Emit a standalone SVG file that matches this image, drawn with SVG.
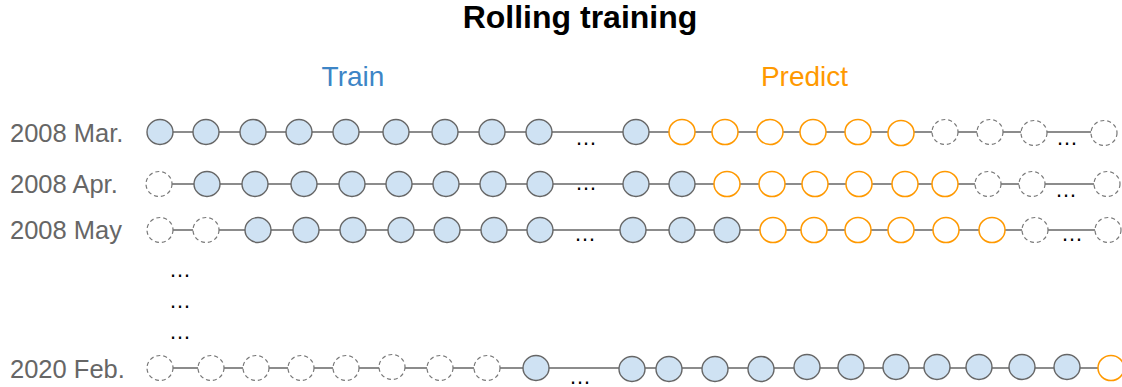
<svg xmlns="http://www.w3.org/2000/svg" width="1122" height="387" viewBox="0 0 1122 387">
  <style>
    text { font-family: "Liberation Sans", Arial, sans-serif; }
    .title { font-size: 32px; font-weight: bold; fill: #000; }
    .phase { font-size: 28px; }
    .label { font-size: 25.5px; fill: #666666; }
    .dots { font-size: 22px; fill: #000; }
    .link { stroke: #666666; stroke-width: 1.6; fill: none; }
    .train { fill: #cfe2f3; stroke: #666666; stroke-width: 1.4; }
    .pred { fill: #ffffff; stroke: #ff9900; stroke-width: 1.5; }
    .idle { fill: #ffffff; stroke: #777777; stroke-width: 1.2; stroke-dasharray: 4 3; }
  </style>

  <text class="title" x="580" y="28" text-anchor="middle">Rolling training</text>
  <text class="phase" x="353" y="86" text-anchor="middle" fill="#3d85c6">Train</text>
  <text class="phase" x="804.5" y="86" text-anchor="middle" fill="#ff9900">Predict</text>

  <!-- row labels -->
  <text class="label" x="10" y="142">2008 Mar.</text>
  <text class="label" x="10" y="193">2008 Apr.</text>
  <text class="label" x="10" y="239">2008 May</text>
  <text class="label" x="10" y="378">2020 Feb.</text>

  <!-- skipped rows -->
  <text class="dots" x="180" y="277" text-anchor="middle">…</text>
  <text class="dots" x="180" y="308" text-anchor="middle">…</text>
  <text class="dots" x="180" y="339" text-anchor="middle">…</text>

  <!-- timeline connectors -->
  <g id="connectors">
    <line class="link" x1="160" y1="132" x2="1104" y2="132"/>
    <line class="link" x1="159" y1="184" x2="1107" y2="184"/>
    <line class="link" x1="160" y1="230" x2="1108" y2="230"/>
    <line class="link" x1="160" y1="368" x2="1111" y2="368"/>
  </g>

  <!-- gaps in each timeline -->
  <text class="dots" x="586" y="145" text-anchor="middle">…</text>
  <text class="dots" x="1067" y="145" text-anchor="middle">…</text>
  <text class="dots" x="586" y="190" text-anchor="middle">…</text>
  <text class="dots" x="1066" y="197" text-anchor="middle">…</text>
  <text class="dots" x="585" y="241" text-anchor="middle">…</text>
  <text class="dots" x="1072" y="241" text-anchor="middle">…</text>
  <text class="dots" x="580" y="384" text-anchor="middle">…</text>

  <!-- row 1: 2008 Mar. -->
  <g id="r1-t1"><ellipse class="train" cx="160" cy="132" rx="13" ry="12.5"/></g>
  <g id="r1-t2"><ellipse class="train" cx="206" cy="132" rx="13" ry="12.5"/></g>
  <g id="r1-t3"><ellipse class="train" cx="253" cy="132" rx="13" ry="12.5"/></g>
  <g id="r1-t4"><ellipse class="train" cx="299" cy="132" rx="13" ry="12.5"/></g>
  <g id="r1-t5"><ellipse class="train" cx="346" cy="132" rx="13" ry="12.5"/></g>
  <g id="r1-t6"><ellipse class="train" cx="396" cy="132" rx="13" ry="12.5"/></g>
  <g id="r1-t7"><ellipse class="train" cx="445" cy="132" rx="13" ry="12.5"/></g>
  <g id="r1-t8"><ellipse class="train" cx="492" cy="132" rx="13" ry="12.5"/></g>
  <g id="r1-t9"><ellipse class="train" cx="539" cy="132" rx="13" ry="12.5"/></g>
  <g id="r1-t10"><ellipse class="train" cx="636" cy="132" rx="13" ry="12.5"/></g>
  <g id="r1-p1"><ellipse class="pred" cx="682" cy="132" rx="13" ry="12.5"/></g>
  <g id="r1-p2"><ellipse class="pred" cx="725" cy="132" rx="13" ry="12.5"/></g>
  <g id="r1-p3"><ellipse class="pred" cx="770" cy="132" rx="13" ry="12.5"/></g>
  <g id="r1-p4"><ellipse class="pred" cx="813" cy="132" rx="13" ry="12.5"/></g>
  <g id="r1-p5"><ellipse class="pred" cx="858" cy="132" rx="13" ry="12.5"/></g>
  <g id="r1-p6"><ellipse class="pred" cx="901" cy="133" rx="13" ry="12.5"/></g>
  <g id="r1-i1"><ellipse class="idle" cx="945" cy="132" rx="13" ry="12.5"/></g>
  <g id="r1-i2"><ellipse class="idle" cx="990" cy="132" rx="13" ry="12.5"/></g>
  <g id="r1-i3"><ellipse class="idle" cx="1034" cy="133" rx="13" ry="12.5"/></g>
  <g id="r1-i4"><ellipse class="idle" cx="1104" cy="133" rx="13" ry="12.5"/></g>

  <!-- row 2: 2008 Apr. -->
  <g id="r2-i1"><ellipse class="idle" cx="159" cy="184" rx="13" ry="12.5"/></g>
  <g id="r2-t1"><ellipse class="train" cx="207" cy="184" rx="13" ry="12.5"/></g>
  <g id="r2-t2"><ellipse class="train" cx="255" cy="184" rx="13" ry="12.5"/></g>
  <g id="r2-t3"><ellipse class="train" cx="304" cy="184" rx="13" ry="12.5"/></g>
  <g id="r2-t4"><ellipse class="train" cx="352" cy="184" rx="13" ry="12.5"/></g>
  <g id="r2-t5"><ellipse class="train" cx="399" cy="184" rx="13" ry="12.5"/></g>
  <g id="r2-t6"><ellipse class="train" cx="446" cy="184" rx="13" ry="12.5"/></g>
  <g id="r2-t7"><ellipse class="train" cx="493" cy="184" rx="13" ry="12.5"/></g>
  <g id="r2-t8"><ellipse class="train" cx="540" cy="184" rx="13" ry="12.5"/></g>
  <g id="r2-t9"><ellipse class="train" cx="636" cy="184" rx="13" ry="12.5"/></g>
  <g id="r2-t10"><ellipse class="train" cx="682" cy="184" rx="13" ry="12.5"/></g>
  <g id="r2-p1"><ellipse class="pred" cx="727" cy="184" rx="13" ry="12.5"/></g>
  <g id="r2-p2"><ellipse class="pred" cx="772" cy="184" rx="13" ry="12.5"/></g>
  <g id="r2-p3"><ellipse class="pred" cx="815" cy="184" rx="13" ry="12.5"/></g>
  <g id="r2-p4"><ellipse class="pred" cx="859" cy="184" rx="13" ry="12.5"/></g>
  <g id="r2-p5"><ellipse class="pred" cx="905" cy="184" rx="13" ry="12.5"/></g>
  <g id="r2-p6"><ellipse class="pred" cx="945" cy="184" rx="13" ry="12.5"/></g>
  <g id="r2-i2"><ellipse class="idle" cx="988" cy="184" rx="13" ry="12.5"/></g>
  <g id="r2-i3"><ellipse class="idle" cx="1032" cy="184" rx="13" ry="12.5"/></g>
  <g id="r2-i4"><ellipse class="idle" cx="1107" cy="184" rx="13" ry="12.5"/></g>

  <!-- row 3: 2008 May -->
  <g id="r3-i1"><ellipse class="idle" cx="160" cy="230" rx="13" ry="12.5"/></g>
  <g id="r3-i2"><ellipse class="idle" cx="206" cy="230" rx="13" ry="12.5"/></g>
  <g id="r3-t1"><ellipse class="train" cx="258" cy="230" rx="13" ry="12.5"/></g>
  <g id="r3-t2"><ellipse class="train" cx="306" cy="230" rx="13" ry="12.5"/></g>
  <g id="r3-t3"><ellipse class="train" cx="353" cy="230" rx="13" ry="12.5"/></g>
  <g id="r3-t4"><ellipse class="train" cx="401" cy="230" rx="13" ry="12.5"/></g>
  <g id="r3-t5"><ellipse class="train" cx="447" cy="230" rx="13" ry="12.5"/></g>
  <g id="r3-t6"><ellipse class="train" cx="494" cy="230" rx="13" ry="12.5"/></g>
  <g id="r3-t7"><ellipse class="train" cx="540" cy="230" rx="13" ry="12.5"/></g>
  <g id="r3-t8"><ellipse class="train" cx="633" cy="230" rx="13" ry="12.5"/></g>
  <g id="r3-t9"><ellipse class="train" cx="682" cy="230" rx="13" ry="12.5"/></g>
  <g id="r3-t10"><ellipse class="train" cx="727" cy="230" rx="13" ry="12.5"/></g>
  <g id="r3-p1"><ellipse class="pred" cx="773" cy="230" rx="13" ry="12.5"/></g>
  <g id="r3-p2"><ellipse class="pred" cx="814" cy="230" rx="13" ry="12.5"/></g>
  <g id="r3-p3"><ellipse class="pred" cx="858" cy="230" rx="13" ry="12.5"/></g>
  <g id="r3-p4"><ellipse class="pred" cx="901" cy="230" rx="13" ry="12.5"/></g>
  <g id="r3-p5"><ellipse class="pred" cx="946" cy="230" rx="13" ry="12.5"/></g>
  <g id="r3-p6"><ellipse class="pred" cx="992" cy="230" rx="13" ry="12.5"/></g>
  <g id="r3-i3"><ellipse class="idle" cx="1035" cy="230" rx="13" ry="12.5"/></g>
  <g id="r3-i4"><ellipse class="idle" cx="1108" cy="230" rx="13" ry="12.5"/></g>

  <!-- row 4: 2020 Feb. -->
  <g id="r4-i1"><ellipse class="idle" cx="160" cy="368" rx="13" ry="12.5"/></g>
  <g id="r4-i2"><ellipse class="idle" cx="211" cy="368" rx="13" ry="12.5"/></g>
  <g id="r4-i3"><ellipse class="idle" cx="256" cy="368" rx="13" ry="12.5"/></g>
  <g id="r4-i4"><ellipse class="idle" cx="301" cy="368" rx="13" ry="12.5"/></g>
  <g id="r4-i5"><ellipse class="idle" cx="346" cy="368" rx="13" ry="12.5"/></g>
  <g id="r4-i6"><ellipse class="idle" cx="392" cy="367" rx="13" ry="12.5"/></g>
  <g id="r4-i7"><ellipse class="idle" cx="440" cy="368" rx="13" ry="12.5"/></g>
  <g id="r4-i8"><ellipse class="idle" cx="487" cy="368" rx="13" ry="12.5"/></g>
  <g id="r4-t1"><ellipse class="train" cx="536" cy="368" rx="13" ry="12.5"/></g>
  <g id="r4-t2"><ellipse class="train" cx="632" cy="369" rx="13" ry="12.5"/></g>
  <g id="r4-t3"><ellipse class="train" cx="669" cy="369" rx="13" ry="12.5"/></g>
  <g id="r4-t4"><ellipse class="train" cx="715" cy="369" rx="13" ry="12.5"/></g>
  <g id="r4-t5"><ellipse class="train" cx="761" cy="369" rx="13" ry="12.5"/></g>
  <g id="r4-t6"><ellipse class="train" cx="807" cy="367" rx="13" ry="12.5"/></g>
  <g id="r4-t7"><ellipse class="train" cx="851" cy="367" rx="13" ry="12.5"/></g>
  <g id="r4-t8"><ellipse class="train" cx="896" cy="367" rx="13" ry="12.5"/></g>
  <g id="r4-t9"><ellipse class="train" cx="937" cy="367" rx="13" ry="12.5"/></g>
  <g id="r4-t10"><ellipse class="train" cx="979" cy="367" rx="13" ry="12.5"/></g>
  <g id="r4-t11"><ellipse class="train" cx="1022" cy="367" rx="13" ry="12.5"/></g>
  <g id="r4-t12"><ellipse class="train" cx="1067" cy="367" rx="13" ry="12.5"/></g>
  <g id="r4-p1"><ellipse class="pred" cx="1111" cy="368" rx="13" ry="12.5"/></g>
</svg>
